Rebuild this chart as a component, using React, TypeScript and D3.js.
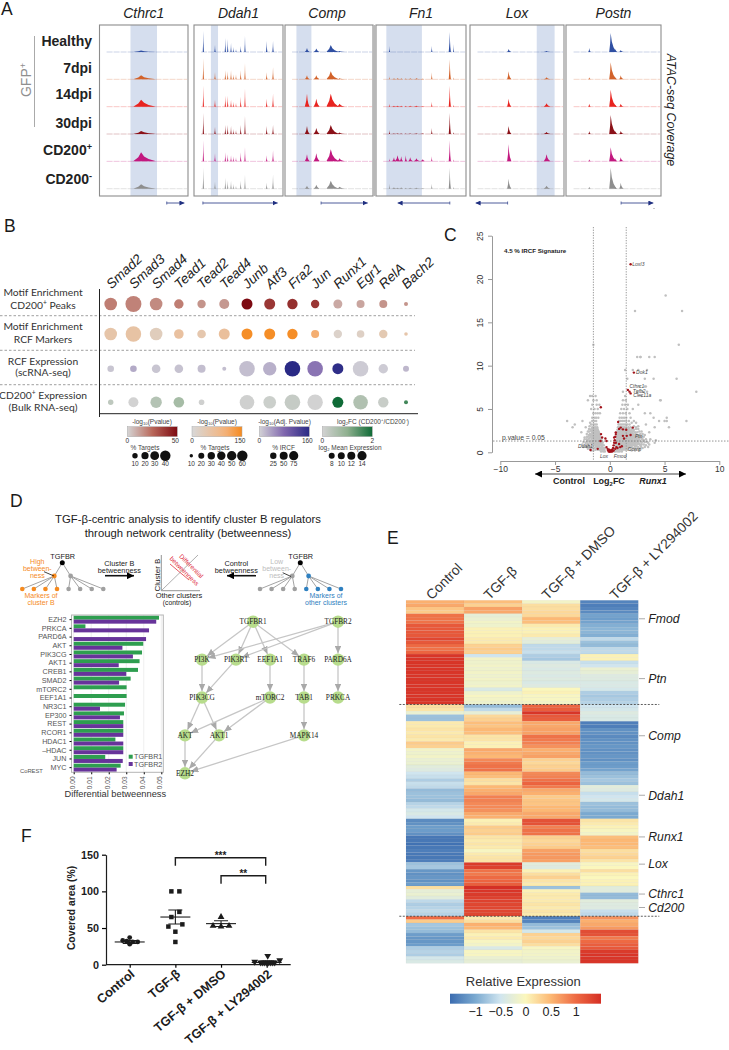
import * as d3 from 'd3';
import React, { useRef, useEffect } from 'react';

const SANS = "'Liberation Sans', Arial, sans-serif";

// ---- panel A data
const trackRows = ['Healthy', '7dpi', '14dpi', '30dpi', 'CD200+', 'CD200-'];
const trackGenes = ['Cthrc1', 'Ddah1', 'Comp', 'Fn1', 'Lox', 'Postn'];
const trackHighlights = [[35, 65], [19, 27], [13, 30], [11.5, 51], [71, 90], null];
const trackArrows = [[76, 96], [10, 94], [41, 94], [82, 24], [40, 6], [58, 92]];
// peak: position, left spread, right spread (percent of the window)
const trackPeaks = [
  [[47, 9, 17]],
  [[10.5, .7, .7], [23.6, .8, .8], [35.2, .7, .7], [37.9, .7, .7], [41.6, .7, .7], [44.2, .6, .6], [47.2, .6, .6], [52.5, .7, .7], [57.3, .7, .7], [81.7, .8, .8], [88.8, .8, .8]],
  [[25, 2.5, 3], [35.6, 3, 4], [52, 5, 9], [62, 3, 6]],
  [[15, .6, .6], [62, .7, .7], [82, 1.2, 1.2], [86, .5, .5], [20, 2, 2], [24, 3, 3], [28, 1.5, 2], [33, 1, 1.5], [38, 2, 3], [45, 3, 4], [52, 3, 3]],
  [[41, 1.5, 3], [81.5, 3, 4]],
  [[24.5, 1, 1.5], [47, 1.5, 6], [57.6, 1.5, 3], [52, 1, 2]],
];
const trackHeights = [
  [[1.5], [4], [7], [3], [9], [4.5]],
  [
    [21, 7, 14, 13, 9, 5, 3, 6, 16, 11, 11],
    [21, 7, 9, 8, 9, 5, 5, 9, 16, 7, 12],
    [21, 7, 11, 11, 7, 5, 4, 10, 18, 8, 13],
    [21, 7, 9, 9, 8, 5, 4, 9, 18, 8, 9],
    [21, 8, 9, 7, 6, 5, 4, 9, 14, 6, 11],
    [21, 7, 11, 8, 8, 5, 3, 8, 14, 6, 14],
  ],
  [[4, 3.5, 7, 1], [4, 4, 8, 1], [13, 8, 13, 3], [8, 6, 9, 1.5], [7, 8, 12, 3], [3, 4, 8, 2]],
  [
    [6, 6, 20, 8, 0, 0, 0, 0, 0, 0, 0],
    [3, 7, 20, 2, 1, 1, 1, 1, 1, 1, .5],
    [3, 5, 21, 2, 1, 1, 1, 1, 1, 1, .5],
    [4, 6, 21, 2, .5, .5, .5, .5, .5, .5, .5],
    [3, 5, 21, 2, 4, 6, 5, 6, 4, 3, 2],
    [5, 5, 21, 2, 1.5, 1, 1.5, 1, 1, 1, .5],
  ],
  [[3, 1], [8, 2], [8, 3.5], [8, 2], [17, 7], [10, 3]],
  [[4, 19, 2, 3], [2, 17, 4, 2], [3, 17, 3, 2], [3, 19, 3, 3], [2, 14, 4, 3], [2, 21, 6, 2]],
];

// ---- panel B data
const factors = ['Smad2', 'Smad3', 'Smad4', 'Tead1', 'Tead2', 'Tead4', 'Junb', 'Atf3', 'Fra2', 'Jun', 'Runx1', 'Egr1', 'RelA', 'Bach2'];
const motifPeakColor = [20, 19, 17, 20, 15, 14, 50, 38, 40, 38, 10, 11, 15, 15];
const motifPeakSize = [63, 80, 63, 47, 42, 50, 55, 55, 52, 42, 45, 40, 40, 20];
const motifMarkerColor = [50, 55, 30, 60, 45, 65, 145, 145, 145, 105, 15, 20, 40, 50];
const motifMarkerSize = [63, 78, 63, 48, 43, 55, 55, 55, 52, 40, 42, 38, 42, 18];
const rcfExprColor = [10, 30, 10, 12, 15, 15, 15, 25, 160, 70, 155, 5, 5, 20];
const rcfExprSize = [33, 33, 43, 43, 40, 20, 78, 67, 78, 78, 55, 78, 47, 30];
const bulkExprColor = [.3, 0, .45, .65, .05, 0, .05, .1, .2, 0, 2, .5, .15, 1.6];
const bulkExprSize = [27, 50, 57, 53, 28, 0, 73, 63, 78, 77, 55, 73, 52, 20];
const dotRowLabels = [
  [['Motif Enrichment'], ['CD200', ['+', 'sup'], ' Peaks']],
  [['Motif Enrichment'], ['RCF Markers']],
  [['RCF Expression'], ['(scRNA-seq)']],
  [['CD200', ['+', 'sup'], ' Expression'], ['(Bulk RNA-seq)']],
];

// ---- panel C data: y level, then the log2FC values read along that level
const volcanoRows: [number, number[]][] = [
  [0.1, [-.8, -.6, -.45, .4, .55, .75, .9, 1.1]],
  [0.2, [-1.7, -1.5, 2, 2.3, 2.7]],
  [0.3, [-1.3, -1.1, -.95, -.8, -.65, -.5, .45, .6, .75, .9, 1.05, 1.2, 1.4, 1.6, 1.9, 2.4]],
  [0.4, [-2, -1.8, 2.3, 2.7]],
  [0.5, [-1.6, -1.4, -1.2, -1.05, -.9, -.75, -.6, -.45, .5, .65, .8, .95, 1.1, 1.25, 1.4, 1.55, 1.7, 1.9, 2.1, 2.6, 3]],
  [0.6, [-2.4, -2.1, -1.9, 2.6, 2.85, 3.2, 3.5]],
  [0.65, [-1.75, -1.5, -1.25, -1.1, -.95, -.7, .6, .85, 1, 1.2, 1.35, 1.5, 1.65, 1.8, 2, 2.3, 2.5]],
  [0.8, [-1.9, -1.5, -1.3, -1.15, -1, -.85, -.7, -.55, .5, .65, .8, .95, 1.1, 1.25, 1.4, 1.55, 1.7, 1.85, 2, 2.2, 2.4, 2.8, 3.3]],
  [0.9, [-2.5, -2.2, 2.9, 3.1, 3.6]],
  [0.95, [-2, -1.65, -1.35, -1.2, -1.05, -.9, -.75, .6, .75, .9, 1.05, 1.2, 1.35, 1.5, 1.65, 1.8, 1.95, 2.1, 2.3, 2.55, 2.7]],
  [1.1, [-2.2, -1.8, -1.6, -1.4, -1.25, -1.1, -.95, -.8, -.65, .55, .7, .85, 1, 1.15, 1.3, 1.45, 1.6, 1.75, 1.9, 2.05, 2.2, 2.4, 2.6, 2.9, 3.5, 4.1]],
  [1.2, [-2.4, -2.1, 3.2, 3.4]],
  [1.25, [-1.95, -1.75, -1.55, -1.3, -1.15, -1, -.85, -.7, .65, .8, .95, 1.1, 1.25, 1.4, 1.55, 1.7, 1.85, 2, 2.15, 2.35, 2.55, 2.8, 3]],
  [1.4, [-2, -1.7, -1.5, -1.35, -1.2, -1.05, -.9, -.75, .6, .75, .9, 1.05, 1.2, 1.35, 1.5, 1.65, 1.8, 1.95, 2.1, 2.3, 2.5, 2.7, 3.1, 4.2]],
  [1.5, [-2.3, -2.1, 3, 3.3, 3.7]],
  [1.55, [-1.9, -1.65, -1.4, -1.25, -1.1, -.95, -.8, .7, .85, 1, 1.15, 1.3, 1.45, 1.6, 1.75, 1.9, 2.05, 2.25, 2.45, 2.65, 2.9]],
  [1.7, [-2.3, -1.8, -1.6, -1.45, -1.3, -1.15, -1, -.85, .65, .8, .95, 1.1, 1.25, 1.4, 1.55, 1.7, 1.85, 2, 2.15, 2.35, 2.55, 2.75]],
  [1.8, [-2.1, -2, 2.9, 3.1]],
  [1.85, [-1.75, -1.55, -1.4, -1.25, -1.1, -.95, .75, .9, 1.05, 1.2, 1.35, 1.5, 1.65, 1.8, 1.95, 2.1, 2.3, 2.5, 2.7]],
  [2, [-1.9, -1.7, -1.5, -1.35, -1.2, -1.05, -.9, .65, .8, .95, 1.1, 1.25, 1.4, 1.55, 1.7, 1.85, 2, 2.2, 2.4, 2.6, 3.2]],
  [2.1, [-2.1, 2.8, 3]],
  [2.15, [-1.8, -1.6, -1.4, -1.25, -1.1, -.95, .75, .9, 1.05, 1.2, 1.35, 1.5, 1.65, 1.8, 1.95, 2.1, 2.35]],
  [2.3, [-2.6, -1.6, -1.45, -1.3, -1.15, -1, .7, .85, 1, 1.15, 1.3, 1.45, 1.6, 1.75, 1.9, 2.05, 2.3, 2.5, 3.6]],
  [2.4, [-2, -1.9, 2.7, 2.9]],
  [2.45, [-1.7, -1.5, -1.35, -1.2, -1.05, .8, .95, 1.1, 1.25, 1.4, 1.55, 1.7, 1.9, 2.15]],
  [2.6, [-1.75, -1.55, -1.4, -1.25, -1.1, .7, .85, 1, 1.15, 1.3, 1.45, 1.6, 1.8, 2, 2.2]],
  [2.7, [-1.9, 2.4, 2.6]],
  [2.75, [-1.65, -1.45, -1.3, -1.15, .85, 1, 1.15, 1.3, 1.5, 1.75, 2.05]],
  [2.9, [-3.4, -2.2, -1.6, -1.45, -1.3, -1.15, .75, .9, 1.05, 1.2, 1.35, 1.5, 1.7, 1.9, 2.4, 4.1, 5.4]],
  [3, [-1.85, 2.2, 2.6]],
  [3.2, [-3.2, -1.7, -1.5, -1.35, -1.2, .8, .95, 1.1, 1.25, 1.4, 1.6, 1.8, 3.3]],
  [3.4, [-1.8, 2, 2.4]],
  [3.6, [-3.9, -2.5, -1.6, -1.4, -1.25, .85, 1, 1.15, 1.3, 1.5, 1.75, 2.2, 4.5, 5, 5.2, 7]],
  [4, [-1.6, -1.4, -1.25, -1.05, .9, 1.1, 1.3, 1.5, 1.9, 5.2, 4]],
  [4.5, [-1.5, -1.3, -1.1, -.9, .95, 1.2, 1.45, 1.8, 3.2, 3.7]],
  [5, [-1.7, -1.4, -1.1, 1.05, 1.3, 1.6, 2.1]],
  [5.5, [-1.6, -1.2, -.95, 1.15, 1.4, 1.65, 2.6]],
  [6, [-2, -1.5, -1.2, 1.2, 1.45, 4.6, 4.65]],
  [6.5, [-1.8, -1.6, -1.3, 1.4, 2.9]],
  [7, [1.2, 3, 3.4, 2.5, 7.9]],
  [7.6, [3.3, 3.2, 2.7]],
  [8.5, [1.6, 4, 6.1, 3.2]],
  [9.5, [1.4, 2.1, 3.4, 2.6]],
  [11, [2.5, 2.8, 2.8, 4.1, 3.6]],
  [12.4, [-1.5, 6.3]],
  [16.3, [2.3, 6.6]],
  [18.1, [5.1]],
];
const redLog2FC = [1.9, 2.2, 1.65, 1.8, 1.9, -.82, .76, .85, 1, 1.2, 2.1, 1.5, -.8, -.7, -.4, -.85, -.3, -1.76, -1.1, 1.2, 1.3, 1.55, 1.9, .85, .55, .4, .55, -.3, -.2, -.15, -.1, 0, .1, .15, .2, .3, .35, .4, .45, .5, .55, .2, -.05, .05, .25, .35, .6, .7, .5, .95, 1.1];
const redPval = [21.7, 9.2, 7.2, 7, 6.8, 5.2, 3.5, 2.7, 2.85, 2.65, 2.85, 2.6, 2.1, 1.7, 1.6, 1.3, 1.3, .27, .4, 1.9, 1.6, 1.9, 2, .95, 1.1, 1.7, 2.3, .6, .4, .25, .1, .05, .1, .2, .3, .5, .8, 1.1, 1.4, 1.8, 2.1, .1, .3, .2, .15, .2, .6, .5, .4, .6, .7];
const volcanoGenes = ['LoxI3', 'Dok1', 'Cthrc1', 'Tgfb2', 'Clec11a', 'Ptn', 'Ddah1', 'Comp', 'Lox', 'Fmod'];
const volcanoGeneX = [2.05, 2.4, 1.8, 2.1, 2.15, 2.3, -2.9, 1.65, -.9, .35];
const volcanoGeneY = [21.7, 9.2, 7.6, 7.1, 6.6, 1.9, .75, .35, -.5, -.5];

// ---- panel D data
const betweenGenes = ['EZH2', 'PRKCA', 'PARD6A', 'AKT', 'PIK3CG', 'AKT1', 'CREB1', 'SMAD2', 'mTORC2', 'EEF1A1', 'NR3C1', 'EP300', 'REST', 'RCOR1', 'HDAC1', '\u2013HDAC', 'JUN', 'MYC'];
const tgfbr1 = [.0487, .0067, 0, .0397, .039, .0376, .0367, .0325, .0302, .0302, .0293, .0287, .0283, .0283, .0238, .0283, .018, .0268];
const tgfbr2 = [.0471, .043, .0413, .0278, .0338, .0257, .03, .0259, 0, 0, .015, .0264, .0283, .0283, .0283, .0283, .028, .0245];
const netNames = ['TGFBR1', 'TGFBR2', 'PI3K', 'PIK3R1', 'EEF1A1', 'TRAF6', 'PARD6A', 'PIK3CG', 'mTORC2', 'TAB1', 'PRKCA', 'AKT', 'AKT1', 'MAPK14', 'EZH2'];
const netColumns = [4, 9, 1, 3, 5, 7, 9, 1, 5, 7, 9, 0, 2, 7, 0];
const netLevels = [0, 0, 1, 1, 1, 1, 1, 2, 2, 2, 2, 3, 3, 3, 4];
const netEdges = [
  ['TGFBR1', 'PI3K'], ['TGFBR1', 'PIK3R1'], ['TGFBR1', 'EEF1A1'], ['TGFBR1', 'TRAF6'],
  ['TGFBR2', 'PI3K'], ['TGFBR2', 'PIK3R1'], ['TGFBR2', 'PARD6A'],
  ['PI3K', 'PIK3CG'], ['PIK3R1', 'PIK3CG'], ['EEF1A1', 'mTORC2'], ['TRAF6', 'TAB1'], ['PARD6A', 'PRKCA'],
  ['PIK3CG', 'AKT'], ['PIK3CG', 'AKT1'], ['mTORC2', 'AKT'], ['mTORC2', 'AKT1'], ['TAB1', 'MAPK14'],
  ['AKT', 'EZH2'], ['AKT1', 'EZH2'], ['MAPK14', 'EZH2'],
];

// ---- panel E data, 108 genes by 4 conditions
const heatColumns = ['Control', 'TGF-\u03B2', 'TGF-\u03B2 + DMSO', 'TGF-\u03B2 + LY294002'];
const heatControl = [
  .55, .6, .4, .35, .95, .95, .95, 1.15, 1.15, 1.15, 1.15, 1.3, 1.15, 1, .95, 1.05,
  1.45, 1.45, 1.45, 1.45, 1.45, 1.45, 1.45, 1.45, 1.45, 1.45, 1.45, 1.45, 1.45, 1.45, 1.45,
  .2, .15, -.2, -.8, -.8, .1, .1, .15, .1, .15, .1, .35, .3, -.1, -.15, -.1, -.2, -.2, -.3, -.35,
  -.5, -.55, -.7, -.55, -.6, -.85, -.8, -.8, -.85, -.65, -.6, -.45, -.4, -.5,
  -1.25, -1.2, -1.1, -1.1, -1.2, -1.4, -1.4, -1.45, -1.4, -1.35, -1.4, -1.4, -1.35, -.8, -.75,
  -1.15, -1.2, -1.15, -1.2, -1.1, .2, -.25, -.2, -.3, -.6, -.7, -.65, -.6, -.65,
  1, .35, -.75, -.8, -.85, -1.1, -1.15, -1.15, -1.1, -.7, -.65, -.7, -.45, -.4,
];
const heatTgfb = [
  .45, .3, .65, .6, -.25, -.2, -.1, -.15, .05, .05, .05, .1, .1, .3, .35, .3,
  -.5, -.1, -.15, -.1, -.15, -.1, -.15, -.1, -.15, -.1, -.4, -.15, -.05, -.1, -.15,
  -.85, -.6, -.25, .25, .3, .45, .4, .5, .45, .15, .15, .05, .05, .6, .55, .5, .8, .9, .95, .95,
  .5, .45, .2, .15, .5, .55, .6, .85, .85, .8, .8, .75, .6, .55,
  .05, .1, .35, .3, .35, .15, .1, .15, .1, -.05, .1, .15, .15, 1.4, 1.35,
  .95, .9, 1, 1.05, 1.1, 1.5, 1.45, 1.4, 1.35, 1.35, 1.3, 1.3, 1.3, 1.3,
  .1, .2, .55, .5, .15, .05, .1, -.05, -.1, -.4, -.05, -.05, -.2, -.25,
];
const heatDmso = [
  -.1, .2, .2, .25, .25, .5, .45, .1, .05, .05, .1, -.25, -.3, -.6, -.6, -.55,
  -.7, -.75, -.4, -.35, -.4, -.35, -.4, -.35, -.4, -.35, 0, .05, -.05, -.05, -.1,
  1.05, 1.1, 1.45, 1.15, 1.1, .6, .6, .65, .65, .95, .9, .85, .75, .55, .6, .65, .3, .25, .3, .35,
  .8, .85, .95, 1.05, .9, .6, .55, .35, .4, .4, .5, .5, .6, .6,
  1.2, 1.2, .85, .95, .95, .3, .25, .3, .35, .65, .7, .7, .65, -.3, -.35,
  .05, .2, .3, .15, .1, -.8, .05, .1, .1, .1, .15, .1, .15, .1,
  -1.35, -1.3, -.85, -.8, -.45, .3, .25, .3, .2, -.05, -.1, -.1, -.15, -.2,
];
const heatLy = [
  -1.3, -1.35, -1.3, -1.25, -1.05, -1.1, -1.05, -.95, -.9, -.9, -.95, -.6, -.8, -.85, -.6, -.6,
  .05, .05, -.55, -.5, -.2, -.25, -.35, -.35, -.4, -.4, -.45, -.7, -.75, -.7, -.65,
  -.5, -.45, -.35, -.4, -.4, -1.35, -1.35, -1.2, -1.2, -1.25, -1.2, -1.2, -1.15, -1.2, -1.2, -1.15, -1.2, -1.1, -1.1, -1.05,
  -.85, -.8, -.75, -.8, -.3, -.35, -.55, -.5, -.45, -.8, -.85, -.85, -1, -1,
  .15, .1, .05, -.05, -.1, .45, .5, .5, .45, .2, .25, .3, .15, -.05, 0,
  .2, .05, 0, .05, .05, -.3, -.3, -.85, -.85, -.3, -.35, -.35, -.55, -.6,
  .75, .55, .6, .7, 1.25, 1.2, .9, 1, 1.1, 1.15, 1.4, 1.45, 1.45, 1.45,
];
const heatGenes = ['Fmod', 'Ptn', 'Comp', 'Ddah1', 'Runx1', 'Lox', 'Cthrc1', 'Cd200'];
const heatGeneRows = [5.5, 23.3, 40.3, 58, 70.4, 78.5, 87.4, 91.4];
const heatBreaks = [31, 94];
const heatTicks = [-1, -.5, 0, .5, 1];

// ---- panel F data
const coverGroups = ['Control', 'TGF-\u03B2', 'TGF-\u03B2 + DMSO', 'TGF-\u03B2 + LY294002'];
const coverValues = [
  [37, 33, 32, 31, 31, 28],
  [100, 100, 72, 65, 55, 52, 45, 31],
  [65, 53, 53, 52],
  [12, 4, 6, 3, 3, 3, 3, 3, 3, 3, 3],
];
const coverSwarm = [
  [0, -7, -3, 3, 8, 0],
  [-4, 4, 4, -4, 7, -7, 0, 0],
  [0, -8, 8, 0],
  [1, -12, 13, -6, -4, -2, 0, 2, 4, 6, 8],
];
const coverMean = [31, 65, 56, 3];
const coverError = [2, 9.5, 4, 1];
const coverSigs = [{ from: 1, to: 3, mark: '***' }, { from: 2, to: 3, mark: '**' }];

function label(g, x, y, content, o: any = {}) {
  const size = o.size || 10;
  const t = g.append('text')
    .attr('transform', `translate(${x},${y}) rotate(${o.rotate || 0})`)
    .attr('font-family', o.family || SANS)
    .attr('font-size', size)
    .attr('font-weight', o.weight || 'normal')
    .attr('font-style', o.style || 'normal')
    .attr('text-anchor', o.anchor || 'start')
    .attr('fill', o.fill || '#222');
  const parts = Array.isArray(content) ? content : [content];
  let shift = 0;
  parts.forEach((p, i) => {
    const kind = Array.isArray(p) ? p[1] : null;
    const str = Array.isArray(p) ? p[0] : p;
    const want = kind === 'sub' ? size * .22 : kind === 'sup' ? -size * .38 : 0;
    const s = t.append('tspan').text(str).attr('dy', (i === 0 ? size * .35 : 0) + want - shift);
    if (kind) s.attr('font-size', size * .65);
    shift = want;
  });
  return t;
}

function panelLetter(g, x, y, s) {
  label(g, x, y, s, { size: 17.5, fill: '#1a1a1a' });
}

function drawTracks(root, boxes) {
  const g = root.append('g');
  const rowColors = ['#2f4fa2', '#d2622a', '#e8231f', '#8b1118', '#c2187f', '#8e8e8e'];
  const rowY = d3.scalePoint().domain(trackRows).range([52, 188.7]);
  const h = d3.scaleLinear().domain([0, 30]).range([0, 30]);
  const labelY = [41, 68, 94.5, 122.7, 150, 179];
  const labelParts = ['Healthy', '7dpi', '14dpi', '30dpi', ['CD200', ['+', 'sup']], ['CD200', ['-', 'sup']]];

  panelLetter(g, 1, 9, 'A');

  boxes.forEach((box, i) => {
    const x = d3.scaleLinear().domain([0, 100]).range(box);
    const hl = trackHighlights[i];
    if (hl) {
      g.append('rect').attr('x', x(hl[0])).attr('y', 25).attr('width', x(hl[1]) - x(hl[0])).attr('height', 171)
        .attr('fill', '#d5deee');
    }
    trackRows.forEach((row, r) => {
      const base = rowY(row);
      g.append('line').attr('x1', x(8)).attr('x2', x(99)).attr('y1', base).attr('y2', base)
        .attr('stroke', rowColors[r]).attr('stroke-opacity', .25).attr('stroke-width', 1).attr('stroke-dasharray', '6,1');
      trackPeaks[i].forEach((p, k) => {
        const top = trackHeights[i][r][k];
        if (!top) return;
        const shape: [number, number][] = [
          [p[0] - p[1], 0], [p[0] - p[1] * .35, top * .45], [p[0], top], [p[0] + p[2] * .2, top * .55], [p[0] + p[2] * .5, top * .25], [p[0] + p[2], 0],
        ];
        const area = d3.area().x(d => x(d[0])).y0(base).y1(d => base - h(d[1]));
        g.append('path').attr('d', area(shape)).attr('fill', rowColors[r]);
      });
    });
    g.append('rect').attr('x', box[0]).attr('y', 25).attr('width', box[1] - box[0]).attr('height', 171)
      .attr('fill', 'none').attr('stroke', '#8c8c8c').attr('stroke-width', 1.1);
    label(g, (box[0] + box[1]) / 2 + (i === 2 ? -2 : 0), 13, trackGenes[i], { size: 14, style: 'italic', anchor: 'middle' });
    const a = trackArrows[i];
    g.append('line').attr('x1', x(a[0])).attr('x2', x(a[1])).attr('y1', 203).attr('y2', 203)
      .attr('stroke', '#3a4a90').attr('stroke-width', .9).attr('marker-end', 'url(#navyHead)');
    g.append('line').attr('x1', x(a[0])).attr('x2', x(a[0])).attr('y1', 201.5).attr('y2', 204.5).attr('stroke', '#3a4a90').attr('stroke-width', .8);
  });
  g.append('rect').attr('x', 373).attr('y', 25).attr('width', 3).attr('height', 171).attr('fill', '#b8b8b8');
  g.append('circle').attr('cx', 654).attr('cy', 208.5).attr('r', .6).attr('fill', '#888');

  labelParts.forEach((p, i) => label(g, 92, labelY[i], p, { size: 14, weight: 'bold', anchor: 'end' }));
  label(g, 26, 80, ['GFP', ['+', 'sup']], { size: 14, rotate: -90, anchor: 'middle', fill: '#8f8f8f' });
  g.append('line').attr('x1', 34.5).attr('x2', 34.5).attr('y1', 36).attr('y2', 127).attr('stroke', '#aaa').attr('stroke-width', 1);
  label(g, 671, 110, 'ATAC-seq Coverage', { size: 12.4, style: 'italic', rotate: 90, anchor: 'middle' });
}

function drawDots(root) {
  const g = root.append('g');
  panelLetter(g, 4, 226, 'B');

  const x = d3.scalePoint().domain(factors).range([110.7, 406]);
  const rowY = [304, 334, 368.7, 402.3];
  const size = d3.scaleLinear().domain([0, 80]).range([0, 8]);
  const red = d3.scaleLinear().domain([0, 25, 50]).range(['#d5d5d5', '#b9685a', '#7d0a12']);
  const orange = d3.scaleLinear().domain([0, 100, 150]).range(['#d8d8d8', '#f4b27a', '#f58a1e']);
  const purple = d3.scaleLinear().domain([0, 80, 160]).range(['#d2d2d6', '#8066ae', '#2a2a85']);
  const green = d3.scaleLinear().domain([0, 1, 2]).range(['#d2d2d2', '#8fb08f', '#0f6b37']);
  const rows = [
    { color: motifPeakColor, size: motifPeakSize, scale: red },
    { color: motifMarkerColor, size: motifMarkerSize, scale: orange },
    { color: rcfExprColor, size: rcfExprSize, scale: purple },
    { color: bulkExprColor, size: bulkExprSize, scale: green },
  ];

  [315.7, 350.3, 384.7].forEach(y => {
    g.append('line').attr('x1', 0).attr('x2', 415).attr('y1', y).attr('y2', y)
      .attr('stroke', '#777').attr('stroke-width', .7).attr('stroke-dasharray', '2.5,2');
  });
  g.append('line').attr('x1', 99.5).attr('x2', 99.5).attr('y1', 289).attr('y2', 417).attr('stroke', '#222').attr('stroke-width', 1);
  g.append('line').attr('x1', 99).attr('x2', 418).attr('y1', 413.7).attr('y2', 413.7).attr('stroke', '#222').attr('stroke-width', 1);

  rows.forEach((row, r) => {
    g.append('g').selectAll('circle').data(factors).join('circle')
      .attr('cx', d => x(d))
      .attr('cy', rowY[r])
      .attr('r', (d, i) => size(row.size[i]))
      .attr('fill', (d, i) => row.scale(row.color[i]));
  });

  factors.forEach(f => {
    label(g, x(f) - 2.5, 286, f, { size: 13.6, style: 'italic', rotate: -43 });
  });

  const labelY = [[292.7, 305.3], [326.7, 339], [361, 372.5], [395, 407]];
  dotRowLabels.forEach((lines, i) => {
    lines.forEach((line, k) => label(g, 43, labelY[i][k], line, { size: 10.3, anchor: 'middle', family: 'Lato', fill: '#333' }));
  });

  // colour keys
  const keys = [
    { x: 127.3, id: 'keyRed', scale: red, dom: [0, 50], title: ['-log', ['10', 'sub'], '(Pvalue)'], tx: 152, ticks: ['0', '50'], sizeTitle: '% Targets', stx: 145, labels: ['10', '20', '30', '40'], xs: [135, 145, 154.7, 165.3], rs: [2.7, 3.6, 4.4, 5.2] },
    { x: 192, id: 'keyOrange', scale: orange, dom: [0, 150], title: ['-log', ['10', 'sub'], '(Pvalue)'], tx: 217, ticks: ['0', '150'], sizeTitle: '% Targets', stx: 215, labels: ['10', '20', '30', '40', '50', '60'], xs: [191.3, 201.3, 211.3, 221.3, 231.7, 242.3], rs: [1.7, 3, 3.7, 4.2, 4.7, 5.2] },
    { x: 259.3, id: 'keyPurple', scale: purple, dom: [0, 160], title: ['-log', ['10', 'sub'], '(Adj. Pvalue)'], tx: 284.5, ticks: ['0', '160'], sizeTitle: '% IRCF', stx: 283.5, labels: ['25', '50', '75'], xs: [273.3, 283.7, 293.7], rs: [3.2, 4, 4.6] },
    { x: 322.3, id: 'keyGreen', scale: green, dom: [0, 2], title: ['log', ['2', 'sub'], 'FC (CD200', ['+', 'sup'], '/CD200', ['-', 'sup'], ')'], tx: 373, ticks: ['0', '2'], sizeTitle: ['log', ['2', 'sub'], ' Mean Expression'], stx: 350, labels: ['8', '10', '12', '14'], xs: [331.7, 341.3, 351.3, 362], rs: [3, 3.5, 4, 4.6] },
  ];
  const defs = root.select('defs');
  keys.forEach(k => {
    const grad = defs.append('linearGradient').attr('id', k.id);
    d3.range(0, 1.01, .1).forEach(t => {
      grad.append('stop').attr('offset', t).attr('stop-color', k.scale(k.dom[0] + t * (k.dom[1] - k.dom[0])));
    });
    g.append('rect').attr('x', k.x).attr('y', 426.7).attr('width', 50).attr('height', 10)
      .attr('fill', `url(#${k.id})`).attr('stroke', '#aaa').attr('stroke-width', .5);
    label(g, k.tx, 421.5, k.title, { size: 6.5, anchor: 'middle', fill: '#444' });
    label(g, k.x, 441, k.ticks[0], { size: 6.5, anchor: 'middle', fill: '#333' });
    label(g, k.x + 50 - (k.ticks[1].length > 1 ? 2 : 0), 441, k.ticks[1], { size: 6.5, anchor: 'middle', fill: '#333' });
    label(g, k.stx, 447.5, k.sizeTitle, { size: 6.5, anchor: 'middle', fill: '#444' });
    k.labels.forEach((s, i) => {
      g.append('circle').attr('cx', k.xs[i]).attr('cy', 455.7).attr('r', k.rs[i]).attr('fill', '#111');
      label(g, k.xs[i], 463.6, s, { size: 6.5, anchor: 'middle', fill: '#333' });
    });
  });
}

function drawVolcano(root) {
  const g = root.append('g');
  panelLetter(g, 444, 235, 'C');

  const x = d3.scaleLinear().domain([-10, 10]).range([500.3, 719.3]);
  const y = d3.scaleLinear().domain([0, 25]).range([452.3, 235.7]);

  const xAxis = g.append('g').attr('transform', 'translate(0,461)')
    .call(d3.axisBottom(x).tickValues([-10, -5, 0, 5, 10]).tickSize(4).tickSizeOuter(0));
  const yAxis = g.append('g').attr('transform', 'translate(492,0)')
    .call(d3.axisLeft(y).tickValues([0, 5, 10, 15, 20, 25]).tickSize(4).tickSizeOuter(0));
  xAxis.selectAll('text').attr('font-size', 8.5).attr('font-family', SANS).attr('fill', '#333').attr('dy', '0.5em');
  yAxis.selectAll('text').attr('font-size', 8.5).attr('font-family', SANS).attr('fill', '#333')
    .attr('text-anchor', 'middle').attr('transform', 'rotate(-90)').attr('x', 0).attr('y', -9.5).attr('dy', 0);
  g.selectAll('.domain, .tick line').attr('stroke', '#999');

  const gray = volcanoRows.flatMap(([py, xs]) => xs.map(fc => [fc, py]));
  g.append('g').selectAll('circle').data(gray).join('circle')
    .attr('cx', d => x(d[0])).attr('cy', d => y(d[1])).attr('r', 1.25).attr('fill', '#c0c0c0');

  [-1.5, 1.5].forEach(v => {
    g.append('line').attr('x1', x(v)).attr('x2', x(v)).attr('y1', 227).attr('y2', 461)
      .attr('stroke', '#999').attr('stroke-width', 1).attr('stroke-dasharray', '1.3,1.3');
  });
  g.append('line').attr('x1', 493).attr('x2', 729).attr('y1', y(1.3)).attr('y2', y(1.3))
    .attr('stroke', '#666').attr('stroke-width', .7).attr('stroke-dasharray', '1.5,1.5');
  label(g, 502, 437.3, 'p.value = 0.05', { size: 6.8, fill: '#444' });
  label(g, 504, 250.7, '4.5 % IRCF Signature', { size: 6.2, weight: 'bold' });

  g.append('g').selectAll('circle').data(redLog2FC).join('circle')
    .attr('cx', d => x(d)).attr('cy', (d, i) => y(redPval[i])).attr('r', 1.2).attr('fill', '#a3141c');

  volcanoGenes.forEach((s, i) => {
    label(g, x(volcanoGeneX[i]), y(volcanoGeneY[i]), s, { size: 5, style: 'italic', fill: '#444' });
  });

  g.append('line').attr('x1', 535).attr('x2', 686).attr('y1', 474).attr('y2', 474).attr('stroke', '#444').attr('stroke-width', 1)
    .attr('marker-start', 'url(#blackHead)').attr('marker-end', 'url(#blackHead)');
  label(g, 569, 481, 'Control', { size: 9, weight: 'bold', anchor: 'middle' });
  label(g, 609, 481, ['Log', ['2', 'sub'], 'FC'], { size: 9, weight: 'bold', anchor: 'middle' });
  label(g, 653, 481, 'Runx1', { size: 9, weight: 'bold', style: 'italic', anchor: 'middle' });
}

function drawTree(g, c, leafX, leftColor, rightColor, midLeft, midRight) {
  const leaf = d3.scalePoint().domain(d3.range(8).map(String)).range(leafX);
  const rootY = 562.7, midY = 576, leafY = 589;
  const mids = [c - 8, c + 8.3];
  mids.forEach(m => {
    g.append('line').attr('x1', c).attr('y1', rootY).attr('x2', m).attr('y2', midY).attr('stroke', '#999').attr('stroke-width', .9);
  });
  d3.range(8).forEach(i => {
    const from = i < 4 ? mids[0] : mids[1];
    g.append('line').attr('x1', from).attr('y1', midY).attr('x2', leaf(String(i))).attr('y2', leafY).attr('stroke', '#999').attr('stroke-width', .9);
    g.append('circle').attr('cx', leaf(String(i))).attr('cy', leafY).attr('r', 2.3).attr('fill', i < 4 ? leftColor : rightColor);
  });
  g.append('circle').attr('cx', c).attr('cy', rootY).attr('r', 2.5).attr('fill', '#000');
  g.append('circle').attr('cx', mids[0]).attr('cy', midY).attr('r', 2.4).attr('fill', midLeft);
  g.append('circle').attr('cx', mids[1]).attr('cy', midY).attr('r', 2.4).attr('fill', midRight);
}

function drawNetworkPanel(root) {
  const g = root.append('g');
  const ORANGE = '#f58a1e', BLUE = '#2f80c0', GRAY = '#a0a0a0', RED = '#e0303f';
  panelLetter(g, 10, 501, 'D');
  label(g, 188, 519, 'TGF-\u03B2-centric analysis to identify cluster B regulators', { size: 11.3, anchor: 'middle' });
  label(g, 188, 533, 'through network centrality (betweenness)', { size: 11.3, anchor: 'middle' });

  drawTree(g, 62.3, [22.3, 103.3], ORANGE, GRAY, ORANGE, GRAY);
  drawTree(g, 300.3, [260, 341], GRAY, BLUE, GRAY, BLUE);
  label(g, 62.7, 556.3, 'TGFBR', { size: 7.3, anchor: 'middle' });
  label(g, 300.7, 556.3, 'TGFBR', { size: 7.3, anchor: 'middle' });
  ['High', 'between-', 'ness'].forEach((s, i) => label(g, 37.3, 561.7 + i * 6.7, s, { size: 7, anchor: 'middle', fill: ORANGE }));
  ['Low', 'between-', 'ness'].forEach((s, i) => label(g, 276.7, 561.7 + i * 6.7, s, { size: 7, anchor: 'middle', fill: '#bdbdbd' }));
  ['Markers of', 'cluster B'].forEach((s, i) => label(g, 41, 595.3 + i * 6.8, s, { size: 7, anchor: 'middle', fill: ORANGE }));
  ['Markers of', 'other clusters'].forEach((s, i) => label(g, 326, 595.3 + i * 6.8, s, { size: 7, anchor: 'middle', fill: BLUE }));
  g.append('line').attr('x1', 44).attr('y1', 571.7).attr('x2', 54).attr('y2', 576).attr('stroke', '#111').attr('stroke-width', .8);
  g.append('line').attr('x1', 282.7).attr('y1', 572.7).attr('x2', 291).attr('y2', 576.5).attr('stroke', '#111').attr('stroke-width', .8);

  ['Cluster B', 'betweenness'].forEach((s, i) => label(g, 119.3, 563 + i * 7, s, { size: 7.3, anchor: 'middle' }));
  ['Control', 'betweenness'].forEach((s, i) => label(g, 236.3, 563 + i * 7, s, { size: 7.3, anchor: 'middle' }));
  g.append('line').attr('x1', 105).attr('x2', 134).attr('y1', 575.7).attr('y2', 575.7).attr('stroke', '#111').attr('stroke-width', 1.6).attr('marker-end', 'url(#blackHead)');
  g.append('line').attr('x1', 256).attr('x2', 227).attr('y1', 575.7).attr('y2', 575.7).attr('stroke', '#111').attr('stroke-width', 1.6).attr('marker-end', 'url(#blackHead)');

  g.append('path').attr('d', 'M161.3,555V590.7H200').attr('fill', 'none').attr('stroke', '#777').attr('stroke-width', .8);
  g.append('line').attr('x1', 161.3).attr('y1', 590.7).attr('x2', 198).attr('y2', 555).attr('stroke', '#999').attr('stroke-width', .8);
  label(g, 157, 575, 'Cluster B', { size: 8, rotate: -90, anchor: 'middle' });
  label(g, 179, 595.5, 'Other clusters', { size: 7.5, anchor: 'middle' });
  label(g, 177, 602.7, '(controls)', { size: 6.8, anchor: 'middle' });
  label(g, 191.3, 566, 'Differential', { size: 6.5, rotate: 45, anchor: 'middle', fill: RED });
  label(g, 184.3, 571, 'betweenness', { size: 6.5, rotate: 45, anchor: 'middle', fill: RED });
  g.append('line').attr('x1', 170).attr('y1', 564).attr('x2', 189).attr('y2', 580).attr('stroke', RED).attr('stroke-width', .8);

  // bars
  const x = d3.scaleLinear().domain([0, .05]).range([73.7, 161.3]);
  const band = d3.scaleBand().domain(betweenGenes).range([615.3, 772]).paddingInner(.08).paddingOuter(.04);
  const bw = band.bandwidth() / 2;
  x.ticks(5).forEach(t => {
    g.append('line').attr('x1', x(t)).attr('x2', x(t)).attr('y1', 615).attr('y2', 772).attr('stroke', '#e6e6e6').attr('stroke-width', .7);
  });
  betweenGenes.forEach((d, i) => {
    g.append('rect').attr('x', x(0)).attr('y', band(d)).attr('width', x(tgfbr1[i]) - x(0)).attr('height', bw).attr('fill', '#2e9e4f');
    g.append('rect').attr('x', x(0)).attr('y', band(d) + bw).attr('width', x(tgfbr2[i]) - x(0)).attr('height', bw).attr('fill', '#67339a');
  });
  g.append('rect').attr('x', 71.5).attr('y', 615).attr('width', 91.8).attr('height', 157.3).attr('fill', 'none').attr('stroke', '#b5b5b5').attr('stroke-width', 1);

  const yAxis = g.append('g').attr('transform', 'translate(71.5,0)').call(d3.axisLeft(band).tickSize(2));
  yAxis.select('.domain').remove();
  yAxis.selectAll('text').attr('font-size', 7.2).attr('font-family', SANS).attr('fill', '#555');
  const xAxis = g.append('g').attr('transform', 'translate(0,772.3)').call(d3.axisBottom(x).ticks(5).tickFormat(d3.format('.2f')).tickSize(2));
  xAxis.select('.domain').remove();
  xAxis.selectAll('text').attr('font-size', 6.6).attr('font-family', SANS).attr('fill', '#555')
    .attr('text-anchor', 'end').attr('transform', 'rotate(-90)').attr('x', -4).attr('y', -2).attr('dy', '0.35em');

  label(g, 115.3, 793.5, 'Differential betweenness', { size: 9.3, anchor: 'middle', fill: '#333' });
  label(g, 20, 771.3, 'CoREST', { size: 5.8, fill: '#555' });
  [['TGFBR1', '#2e9e4f', 756.7], ['TGFBR2', '#67339a', 764]].forEach(([s, c, py]: any) => {
    g.append('rect').attr('x', 128.7).attr('y', py - 2).attr('width', 4).attr('height', 4).attr('fill', c);
    label(g, 134, py, s, { size: 7.2, fill: '#555' });
  });

  // network
  const nx = d3.scaleLinear().domain([0, 9]).range([185, 338]);
  const ny = d3.scaleLinear().domain([0, 4]).range([621.7, 773.3]);
  const nodes = netNames.map((name, i) => ({ name, x: nx(netColumns[i]), y: ny(netLevels[i]) }));
  const byName = new Map(nodes.map(n => [n.name, n]));
  const R = 6.2;
  netEdges.forEach(([a, b]) => {
    const s = byName.get(a), t = byName.get(b);
    const len = Math.hypot(t.x - s.x, t.y - s.y);
    const ux = (t.x - s.x) / len, uy = (t.y - s.y) / len;
    g.append('line')
      .attr('x1', s.x).attr('y1', s.y)
      .attr('x2', t.x - ux * R).attr('y2', t.y - uy * R)
      .attr('stroke', '#c6c6c6').attr('stroke-width', 1.3)
      .attr('marker-end', 'url(#netHead)');
  });
  g.append('g').selectAll('circle').data(nodes).join('circle')
    .attr('cx', d => d.x).attr('cy', d => d.y).attr('r', R).attr('fill', '#b7dc8c');
  nodes.forEach(n => label(g, n.x, n.y, n.name, { size: 7.3, anchor: 'middle', family: "'Liberation Serif', serif", fill: '#222' }));
}

function drawHeatmap(root) {
  const g = root.append('g');
  panelLetter(g, 387, 538, 'E');
  const columns = [heatControl, heatTgfb, heatDmso, heatLy];
  const x = d3.scaleBand().domain(heatColumns).range([406, 638.3]);
  const y = d3.scaleBand().domain(d3.range(heatControl.length).map(String)).range([600.3, 963.3]);
  const color = d3.scaleLinear().domain([-1.5, -1, -.5, 0, .5, 1, 1.5])
    .range(['#3b6cb0', '#7aa9d0', '#d0e5ef', '#fbf7bd', '#fcb874', '#ee6a43', '#d52f25']);

  columns.forEach((vals, c) => {
    g.append('g').selectAll('rect').data(vals).join('rect')
      .attr('x', x(heatColumns[c]))
      .attr('y', (d, i) => y(String(i)))
      .attr('width', x.bandwidth())
      .attr('height', y.bandwidth())
      .attr('fill', d => color(d))
      .attr('stroke', '#888').attr('stroke-opacity', .1).attr('stroke-width', .4);
  });

  heatBreaks.forEach(b => {
    g.append('line').attr('x1', 399.3).attr('x2', 659.3).attr('y1', y(String(b))).attr('y2', y(String(b)))
      .attr('stroke', '#333').attr('stroke-width', .8).attr('stroke-dasharray', '2,1.5');
  });

  const starts = [-6.7, -7, -7, 2.7];
  heatColumns.forEach((s, i) => {
    label(g, x(s) + x.bandwidth() / 2 + starts[i], 597, s, { size: 13.8, rotate: -45, fill: '#333' });
  });
  heatGenes.forEach((s, i) => {
    const py = y(String(Math.floor(heatGeneRows[i]))) + (heatGeneRows[i] % 1) * y.bandwidth();
    g.append('line').attr('x1', 639).attr('x2', 645).attr('y1', py).attr('y2', py).attr('stroke', '#aaa').attr('stroke-width', 1);
    label(g, 648.3, py, s, { size: 12.2, style: 'italic' });
  });

  // colour key
  label(g, 523.3, 981.7, 'Relative Expression', { size: 13, anchor: 'middle', fill: '#333' });
  const keyScale = d3.scaleLinear().domain([-1.5, 1.5]).range([450, 601]);
  const grad = root.select('defs').append('linearGradient').attr('id', 'heatKey');
  d3.range(-1.5, 1.51, .25).forEach(v => {
    grad.append('stop').attr('offset', (v + 1.5) / 3).attr('stop-color', color(v));
  });
  g.append('rect').attr('x', 450).attr('y', 993.7).attr('width', 151).attr('height', 10).attr('fill', 'url(#heatKey)');
  const axis = g.append('g').attr('transform', 'translate(0,1003.7)')
    .call(d3.axisBottom(keyScale).tickValues(heatTicks).tickSize(0).tickFormat(d3.format('')));
  axis.select('.domain').remove();
  axis.selectAll('text').attr('font-size', 12.5).attr('font-family', SANS).attr('fill', '#222').attr('dy', '0.78em');
}

function drawCover(root) {
  const g = root.append('g');
  panelLetter(g, 21, 836, 'F');
  const x = d3.scalePoint().domain(coverGroups).range([129.7, 266.7]);
  const y = d3.scaleLinear().domain([0, 150]).range([964.7, 854.7]);
  const shapes = [d3.symbolCircle, d3.symbolSquare, d3.symbolTriangle, d3.symbolTriangle];
  const dark = '#1c1c1c';

  const yAxis = g.append('g').attr('transform', 'translate(106,0)')
    .call(d3.axisLeft(y).tickValues([0, 50, 100, 150]).tickSize(4).tickSizeOuter(0));
  yAxis.selectAll('text').attr('font-size', 10.8).attr('font-weight', 'bold').attr('font-family', SANS).attr('fill', dark);
  const xAxis = g.append('g').attr('transform', 'translate(0,964.7)')
    .call(d3.axisBottom(x).tickSize(3).tickSizeOuter(0).tickFormat(() => ''));
  xAxis.select('.domain').attr('d', 'M106,0H290.7');
  g.selectAll('.domain').attr('stroke', dark).attr('stroke-width', 1.2);
  yAxis.selectAll('line').attr('stroke-width', 1.2);
  xAxis.selectAll('line').attr('stroke-width', 1.2);

  label(g, 71.7, 908, 'Covered area (%)', { size: 10.3, weight: 'bold', rotate: -90, anchor: 'middle' });

  coverGroups.forEach((s, i) => {
    const cx = x(s);
    const sym = d3.symbol().type(shapes[i]).size(i === 0 ? 18 : 20);
    coverValues[i].forEach((v, k) => {
      g.append('path').attr('d', sym())
        .attr('transform', `translate(${cx + coverSwarm[i][k]},${y(v)})${i === 3 ? ' rotate(180)' : ''}`)
        .attr('fill', dark);
    });
    g.append('line').attr('x1', cx - 15).attr('x2', cx + 15).attr('y1', y(coverMean[i])).attr('y2', y(coverMean[i])).attr('stroke', dark).attr('stroke-width', 1.1);
    const hi = y(coverMean[i] + coverError[i]), lo = y(coverMean[i] - coverError[i]);
    g.append('path').attr('d', `M${cx - 7},${hi}H${cx + 7}M${cx},${hi}V${lo}M${cx - 7},${lo}H${cx + 7}`)
      .attr('fill', 'none').attr('stroke', dark).attr('stroke-width', 1.1);
    label(g, cx + 3, 972, s, { size: 12.6, weight: 'bold', rotate: -40, anchor: 'end', fill: dark });
  });

  const levels = [857.7, 875.7];
  coverSigs.forEach((b, i) => {
    const x1 = x(coverGroups[b.from]), x2 = x(coverGroups[b.to]) - 1;
    const top = levels[i];
    g.append('path').attr('d', `M${x1},${top + 8}V${top}H${x2}V${top + 8}`).attr('fill', 'none').attr('stroke', dark).attr('stroke-width', 1.4);
    label(g, (x1 + x2) / 2, top - 2.5, b.mark, { size: 10, weight: 'bold', anchor: 'middle', fill: dark });
  });
}

function App() {
  const ref = useRef<SVGSVGElement>(null);

  useEffect(() => {
    const svg = d3.select(ref.current);
    svg.selectAll('*').remove();
    const defs = svg.append('defs');
    const marker = (id, w, h, fill) => {
      defs.append('marker').attr('id', id).attr('viewBox', `0 0 ${w} ${h}`).attr('markerUnits', 'userSpaceOnUse')
        .attr('markerWidth', w).attr('markerHeight', h).attr('refX', w).attr('refY', h / 2).attr('orient', 'auto-start-reverse')
        .append('path').attr('d', `M0,0L${w},${h / 2}L0,${h}Z`).attr('fill', fill);
    };
    marker('navyHead', 5, 5, '#1f2f80');
    marker('blackHead', 7, 7, '#000');
    marker('netHead', 7.5, 6.5, '#a9a9a9');

    svg.append('rect').attr('width', 729).attr('height', 1050).attr('fill', '#fff');
    const boxes = [[99.5, 188], [194, 283], [285, 373], [376, 466], [470, 564], [566, 661]];
    drawTracks(svg, boxes);
    drawDots(svg);
    drawVolcano(svg);
    drawNetworkPanel(svg);
    drawHeatmap(svg);
    drawCover(svg);
  }, []);

  return (
    <svg ref={ref} width={729} height={1050} viewBox="0 0 729 1050"
      style={{ position: 'absolute', top: 0, left: 0, display: 'block' }} />
  );
}

export default App;
